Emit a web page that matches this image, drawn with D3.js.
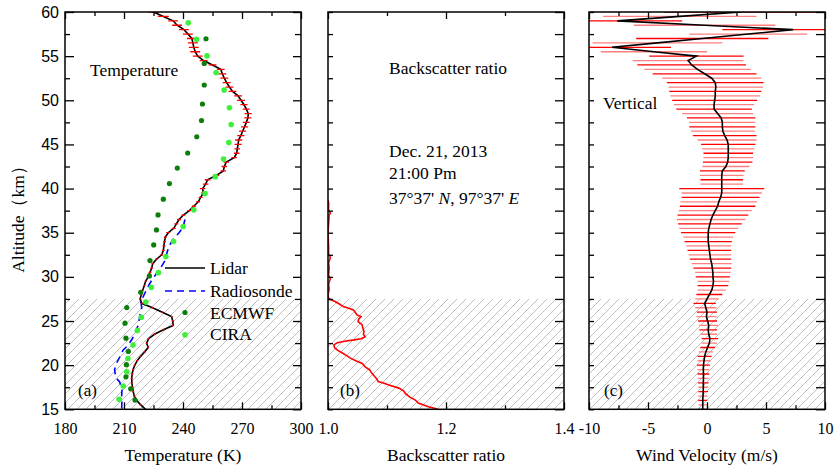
<!DOCTYPE html>
<html><head><meta charset="utf-8">
<script src="https://cdn.jsdelivr.net/npm/d3@7"></script>
<style>body{margin:0;background:#fff}</style>
</head><body>
<svg id="chart" width="836" height="469"></svg>
<script>
// ---------- DATA ----------
// Lidar temperature: [altitude km, T (K), error (K)]
const lidarTemp = [
[15.0,221.0,0.5],[15.5,218.5,0.5],[16.0,216.5,0.5],[16.5,215.2,0.5],[17.0,214.7,0.5],[17.5,214.3,0.5],
[18.0,214.0,0.5],[18.5,213.9,0.5],[19.0,214.2,0.5],[19.5,214.6,0.5],[20.0,215.5,0.5],[20.5,216.7,0.5],
[21.0,218.5,0.5],[21.5,220.5,0.5],[22.0,222.3,0.5],[22.5,221.5,0.5],[23.0,222.5,0.5],[23.5,225.5,0.5],
[24.0,230.0,0.5],[24.5,235.0,0.5],[25.0,234.8,0.5],[25.5,234.2,0.5],[26.0,229.5,0.5],[26.5,224.5,0.5],
[27.0,219.0,0.5],[27.5,218.2,0.5],[28.0,218.8,0.5],[28.5,219.5,0.5],[29.0,220.3,0.5],[29.5,221.0,0.5],
[30.0,222.3,0.7],[30.5,223.2,0.7],[31.0,224.1,0.7],[31.5,224.6,0.7],[32.0,226.5,0.7],[32.5,229.2,0.7],
[33.0,230.0,0.7],[33.5,230.3,0.7],[34.0,230.6,0.7],[34.5,231.0,0.7],[35.0,232.5,1.0],[35.5,235.3,1.0],
[36.0,236.6,1.0],[36.5,238.0,1.0],[37.0,240.2,1.0],[37.5,243.2,1.0],[38.0,245.5,1.0],[38.5,247.7,1.0],
[39.0,249.0,1.0],[39.5,250.3,1.0],[40.0,250.0,1.4],[40.5,251.5,1.4],[41.0,252.5,1.4],[41.5,257.0,1.4],
[42.0,260.5,1.4],[42.5,261.0,1.4],[43.0,262.0,1.4],[43.5,266.0,1.4],[44.0,267.3,1.4],[44.5,267.6,1.4],
[45.0,268.0,1.8],[45.5,268.3,1.8],[46.0,269.4,1.8],[46.5,270.3,1.8],[47.0,271.3,1.8],[47.5,272.2,1.8],
[48.0,273.0,1.8],[48.5,273.2,1.8],[49.0,272.2,1.8],[49.5,271.0,1.8],[50.0,269.5,2.0],[50.5,268.0,2.0],
[51.0,265.2,2.0],[51.5,263.6,2.0],[52.0,262.2,2.0],[52.5,261.0,2.0],[53.0,260.0,2.0],[53.5,259.2,2.0],
[54.0,255.0,2.0],[54.5,250.5,2.0],[55.0,247.5,2.5],[55.5,246.2,2.5],[56.0,245.5,2.5],[56.5,245.0,2.5],
[57.0,244.5,2.5],[57.5,242.5,2.5],[58.0,240.5,2.5],[58.5,237.0,2.5],[59.0,235.0,2.5],[59.5,230.0,2.8],
[60.0,225.0,2.8]
];
// Radiosonde: [altitude km, T (K)]
const radiosonde = [
[15.1,208.8],[16.1,209.0],[16.6,208.8],[17.2,209.0],[18.1,207.8],[18.6,205.8],[19.5,205.2],[20.2,206.2],
[21.0,208.0],[21.7,209.5],[22.1,211.4],[22.9,214.0],[23.8,216.0],[24.6,217.3],[25.5,218.0],[26.5,219.0],
[27.2,218.6],[28.2,220.7],[29.0,222.5],[29.7,224.3],[30.9,228.3],[31.9,231.0],[32.7,231.8],[33.5,233.0],
[34.2,234.8],[35.0,238.0],[35.6,240.0],[36.5,241.0]
];
// ECMWF: [altitude km, T (K)]
const ecmwf = [
[16.05,215.6],[17.32,213.4],[18.68,211.0],[20.06,211.2],[21.55,212.2],[23.06,211.0],[24.75,210.5],
[26.52,211.4],[28.26,218.5],[30.11,222.9],[31.84,223.2],[33.62,225.1],[35.32,226.5],[37.02,227.3],
[38.80,230.0],[40.57,233.1],[42.32,237.1],[44.03,242.4],[45.87,247.0],[47.71,249.4],[49.58,249.9],
[51.73,250.8],[54.17,250.8],[56.97,251.7]
];
// CIRA: [altitude km, T (K)]
const cira = [
[16.13,207.5],[17.64,209.6],[19.26,211.4],[20.76,212.0],[22.27,214.6],[23.93,216.8],[25.43,218.8],
[27.14,221.1],[28.81,223.9],[30.48,227.5],[32.30,231.3],[34.00,235.2],[35.70,240.1],[37.59,245.5],
[39.43,251.2],[41.35,256.4],[43.35,260.6],[45.22,263.3],[47.25,264.5],[49.15,263.6],[51.17,260.9],
[53.12,256.8],[55.03,252.2],[56.92,246.9],[58.77,242.7]
];
// Backscatter ratio: [altitude km, ratio]
const backscatter = [
[15.0,1.187],[15.3,1.170],[15.5,1.162],[15.7,1.153],[16.05,1.148],[16.4,1.138],[16.8,1.131],[17.1,1.128],
[17.4,1.120],[17.75,1.103],[17.95,1.095],[18.15,1.085],[18.5,1.082],[18.8,1.078],[19.1,1.074],[19.45,1.071],
[19.8,1.063],[20.2,1.058],[20.5,1.047],[20.8,1.038],[21.1,1.031],[21.35,1.025],[21.7,1.016],[22.0,1.011],
[22.3,1.010],[22.55,1.016],[22.7,1.028],[22.86,1.044],[23.0,1.056],[23.23,1.063],[23.5,1.060],[23.8,1.061],
[24.2,1.059],[24.56,1.058],[24.93,1.051],[25.2,1.052],[25.5,1.056],[25.69,1.049],[25.9,1.047],[26.26,1.043],
[26.45,1.035],[26.63,1.026],[26.9,1.020],[27.2,1.012],[27.4,1.005],[27.58,1.001],[28.0,1.000],[28.6,1.002],
[29.2,1.001],[29.8,1.004],[30.2,1.001],[31.0,1.002],[31.6,1.001],[32.2,1.004],[32.6,1.001],[33.5,1.001],
[35.0,1.000],[36.0,1.001],[37.0,1.002],[37.2,1.004],[37.6,1.001],[38.4,1.001],[38.7,1.000]
];
// Vertical wind: [altitude km, velocity m/s, error m/s]
const wind = [
[15.0,-0.36,0.35],[15.5,-0.36,0.35],[16.0,-0.36,0.38],[16.5,-0.34,0.4],[17.0,-0.32,0.4],[17.5,-0.31,0.42],
[18.0,-0.31,0.45],[18.5,-0.3,0.45],[19.0,-0.3,0.5],[19.5,-0.31,0.5],[20.0,-0.3,0.55],[20.5,-0.25,0.55],
[21.0,-0.2,0.6],[21.5,-0.1,0.6],[22.0,0.05,0.62],[22.5,0.2,0.65],[23.0,0.25,0.7],[23.5,0.15,0.7],
[24.0,0.1,0.75],[24.5,0.15,0.8],[25.0,0.05,0.8],[25.5,-0.05,0.85],[26.0,0.0,0.85],[26.5,-0.1,0.9],
[27.0,-0.2,0.95],[27.5,0.0,1.0],[28.0,0.2,1.1],[28.5,0.4,1.2],[29.0,0.5,1.3],[29.5,0.55,1.35],
[30.0,0.5,1.45],[30.5,0.5,1.5],[31.0,0.45,1.6],[31.5,0.4,1.7],[32.0,0.3,1.75],[32.5,0.25,1.8],
[33.0,0.2,1.85],[33.5,0.15,1.9],[34.0,0.1,2.0],[34.5,0.1,2.1],[35.0,0.1,2.3],[35.5,0.15,2.5],
[36.0,0.25,2.7],[36.5,0.35,2.9],[37.0,0.5,3.0],[37.5,0.7,3.1],[38.0,0.9,3.2],[38.5,1.0,3.25],
[39.0,1.15,3.3],[39.5,1.25,3.4],[40.0,1.25,3.6],[40.5,1.25,1.8],[41.0,1.25,1.8],[41.5,1.25,1.85],
[42.0,1.3,1.9],[42.5,1.6,2.0],[43.0,1.75,2.1],[43.5,1.8,2.1],[44.0,1.8,2.1],[44.5,1.8,2.2],
[45.0,1.8,2.3],[45.5,1.7,2.5],[46.0,1.5,2.7],[46.5,1.35,2.7],[47.0,1.3,2.8],[47.5,1.3,2.8],
[48.0,1.2,2.9],[48.5,0.9,3.0],[49.0,0.6,3.2],[49.5,0.6,3.4],[50.0,0.65,3.6],[50.5,0.7,3.8],
[51.0,0.7,3.9],[51.5,0.75,4.0],[52.0,0.7,4.1],[52.5,0.4,4.2],[53.0,-0.2,4.4],[53.5,-0.8,4.5],
[54.0,-1.3,4.6],[54.5,-1.6,4.7],[55.0,-0.9,4.0],[55.5,-4.5,4.5],[56.0,-8.05,5.0],[56.5,-4.2,5.5],
[57.0,-0.4,5.6],[57.5,3.5,5.0],[58.0,7.3,6.0],[58.5,-0.2,6.0],[59.0,-7.6,5.5],[59.5,-2.3,6.5],
[60.0,2.9,6.5]
];
// Ticks
const altMajor = [15,20,25,30,35,40,45,50,55,60];
const altMinor = [17.5,22.5,27.5,32.5,37.5,42.5,47.5,52.5,57.5];
const tempMajor = [180,210,240,270,300];
const tempMinor = [195,225,255,285];
const bsrMajor = [1.0,1.2,1.4];
const bsrMinor = [1.1,1.3];
const windMajor = [-10,-5,0,5,10];
const windMinor = [-7.5,-2.5,2.5,7.5];
const hatchTop = 27.5;

// ---------- DRAW ----------
const SERIF = "'Liberation Serif','Times New Roman',serif";
const SANS = "'Liberation Sans',Arial,sans-serif";
const svg = d3.select("#chart");
const yTop = 12, yBot = 409.3;
const y = d3.scaleLinear().domain([15,60]).range([yBot,yTop]);

const defs = svg.append("defs");
const pat = defs.append("pattern").attr("id","hatch").attr("patternUnits","userSpaceOnUse")
  .attr("width",9).attr("height",9);
pat.append("path").attr("d","M-2,2 L2,-2 M0,9 L9,0 M7,11 L11,7")
  .attr("stroke","#b8b8b8").attr("stroke-width",0.9);

const panels = [
  {id:"a", x0:65, x1:301, domain:[180,300], major:tempMajor, minor:tempMinor, fmt:d=>String(d)},
  {id:"b", x0:328, x1:564, domain:[1.0,1.4], major:bsrMajor, minor:bsrMinor, fmt:d3.format(".1f")},
  {id:"c", x0:589, x1:825, domain:[-10,10], major:windMajor, minor:windMinor, fmt:d=>String(d)}
];
panels.forEach(p=>{
  p.x = d3.scaleLinear().domain(p.domain).range([p.x0,p.x1]);
  defs.append("clipPath").attr("id","clip-"+p.id).append("rect")
    .attr("x",p.x0).attr("y",yTop).attr("width",p.x1-p.x0).attr("height",yBot-yTop);
  p.g = svg.append("g");
  p.plot = p.g.append("g").attr("clip-path","url(#clip-"+p.id+")");
  p.plot.append("rect").attr("x",p.x0).attr("y",y(hatchTop)).attr("width",p.x1-p.x0)
    .attr("height",yBot-y(hatchTop)).attr("fill","url(#hatch)");
});

// Panel a
const A = panels[0];
const lineA = d3.line().x(d=>A.x(d[1])).y(d=>y(d[0]));
A.plot.append("path").datum(radiosonde).attr("d",lineA).attr("fill","none")
  .attr("stroke","#0000ff").attr("stroke-width",1.6).attr("stroke-dasharray","7,5");
A.plot.append("path").datum(lidarTemp).attr("d",lineA).attr("fill","none")
  .attr("stroke","#000").attr("stroke-width",1.6);
A.plot.selectAll(".eb").data(lidarTemp).join("line")
  .attr("x1",d=>A.x(d[1]-d[2])).attr("x2",d=>A.x(d[1]+d[2]))
  .attr("y1",d=>y(d[0])).attr("y2",d=>y(d[0]))
  .attr("stroke","#ff0000").attr("stroke-width",1.3);
A.plot.selectAll(".ec").data(ecmwf).join("circle")
  .attr("cx",d=>A.x(d[1])).attr("cy",d=>y(d[0])).attr("r",2.6).attr("fill","#0b7e0b");
A.plot.selectAll(".ci").data(cira).join("circle")
  .attr("cx",d=>A.x(d[1])).attr("cy",d=>y(d[0])).attr("r",2.8).attr("fill","#3cf03c");

// Panel b
const B = panels[1];
B.plot.append("path").datum(backscatter)
  .attr("d",d3.line().x(d=>B.x(d[1])).y(d=>y(d[0])))
  .attr("fill","none").attr("stroke","#ff0000").attr("stroke-width",1.6);

// Panel c
const C = panels[2];
C.plot.selectAll(".wb").data(wind).join("line")
  .attr("x1",d=>C.x(d[1]-d[2])).attr("x2",d=>C.x(d[1]+d[2]))
  .attr("y1",d=>y(d[0])).attr("y2",d=>y(d[0]))
  .attr("stroke",(d,i)=>i%2===0?"#ff0000":"#ff8080").attr("stroke-width",1.3);
C.plot.append("path").datum(wind)
  .attr("d",d3.line().x(d=>C.x(d[1])).y(d=>y(d[0])))
  .attr("fill","none").attr("stroke","#000").attr("stroke-width",1.6);

// Axes and frames
panels.forEach(p=>{
  const gb = p.g.append("g").attr("transform",`translate(0,${yBot})`)
    .call(d3.axisBottom(p.x).tickValues(p.major).tickSizeInner(-7).tickSizeOuter(0).tickPadding(13).tickFormat(p.fmt));
  gb.append("g").call(d3.axisBottom(p.x).tickValues(p.minor).tickSizeInner(-4).tickSizeOuter(0).tickFormat(""));
  const gt = p.g.append("g").attr("transform",`translate(0,${yTop})`)
    .call(d3.axisTop(p.x).tickValues(p.major).tickSizeInner(-7).tickSizeOuter(0).tickFormat(""));
  gt.append("g").call(d3.axisTop(p.x).tickValues(p.minor).tickSizeInner(-4).tickSizeOuter(0).tickFormat(""));
  const leftMaj = p.id==="a"?-9:-5, leftMin = -5;
  const rightMaj = p.id==="a"?-8:-9, rightMin = p.id==="a"?-6:-9;
  const gl = p.g.append("g").attr("transform",`translate(${p.x0},0)`)
    .call(d3.axisLeft(y).tickValues(altMajor).tickSizeInner(leftMaj).tickSizeOuter(0).tickPadding(6)
      .tickFormat(p.id==="a"?(d=>String(d)):""));
  gl.append("g").call(d3.axisLeft(y).tickValues(altMinor).tickSizeInner(leftMin).tickSizeOuter(0).tickFormat(""));
  const gr = p.g.append("g").attr("transform",`translate(${p.x1},0)`)
    .call(d3.axisRight(y).tickValues(altMajor).tickSizeInner(rightMaj).tickSizeOuter(0).tickFormat(""));
  gr.append("g").call(d3.axisRight(y).tickValues(altMinor).tickSizeInner(rightMin).tickSizeOuter(0).tickFormat(""));
  p.g.selectAll(".domain").remove();
  p.g.selectAll(".tick line").attr("stroke","#000").attr("stroke-width",1.3);
  gb.selectAll("text").attr("font-family",SERIF).attr("font-size",16).attr("fill","#000");
  gl.selectAll("text").attr("font-family",SANS).attr("font-size",16).attr("fill","#000");
  p.g.append("rect").attr("x",p.x0).attr("y",yTop).attr("width",p.x1-p.x0).attr("height",yBot-yTop)
    .attr("fill","none").attr("stroke","#000").attr("stroke-width",1.5);
});

// Texts
function txt(x,yy,s,opts={}){
  const t = svg.append("text").attr("x",x).attr("y",yy).attr("font-family",opts.font||SERIF)
    .attr("font-size",opts.size||16).attr("fill","#000").attr("text-anchor",opts.anchor||"start");
  if(typeof s==="string") t.text(s); else s(t);
  return t;
}
txt(183,461,"Temperature (K)",{anchor:"middle",size:17.5});
txt(446,461,"Backscatter ratio",{anchor:"middle",size:17.5});
txt(707,461,"Wind Velocity (m/s)",{anchor:"middle",size:17.5});
svg.append("text").attr("transform","translate(24,215) rotate(-90)").attr("text-anchor","middle")
  .attr("font-family",SERIF).attr("font-size",17.5).attr("fill","#000").text("Altitude（km）");

txt(90,76,"Temperature",{size:17.5});
txt(389,74,"Backscatter ratio",{size:17.5});
txt(389,157,"Dec. 21, 2013",{size:17.5});
txt(389,179,"21:00 Pm",{size:17.5});
txt(389,204,t=>{
  t.append("tspan").text("37°37' ");
  t.append("tspan").attr("font-style","italic").text("N");
  t.append("tspan").text(", 97°37' ");
  t.append("tspan").attr("font-style","italic").text("E");
},{size:17.5});
txt(603,109,"Vertical",{size:17.5});
txt(78,396,"(a)",{size:17});
txt(340,396,"(b)",{size:17});
txt(604,396,"(c)",{size:17});

// Legend
const lg = svg.append("g");
lg.append("line").attr("x1",165).attr("x2",205).attr("y1",268).attr("y2",268).attr("stroke","#000").attr("stroke-width",1.6);
lg.append("line").attr("x1",165).attr("x2",205).attr("y1",291).attr("y2",291).attr("stroke","#0000ff").attr("stroke-width",1.6).attr("stroke-dasharray","7,5");
lg.append("circle").attr("cx",185).attr("cy",312.5).attr("r",2.6).attr("fill","#0b7e0b");
lg.append("circle").attr("cx",185).attr("cy",334.7).attr("r",2.8).attr("fill","#3cf03c");
txt(210,274,"Lidar",{size:17.5});
txt(210,297,"Radiosonde",{size:17.5});
txt(210,318.5,"ECMWF",{size:17.5});
txt(210,340,"CIRA",{size:17.5});
</script>
</body></html>
